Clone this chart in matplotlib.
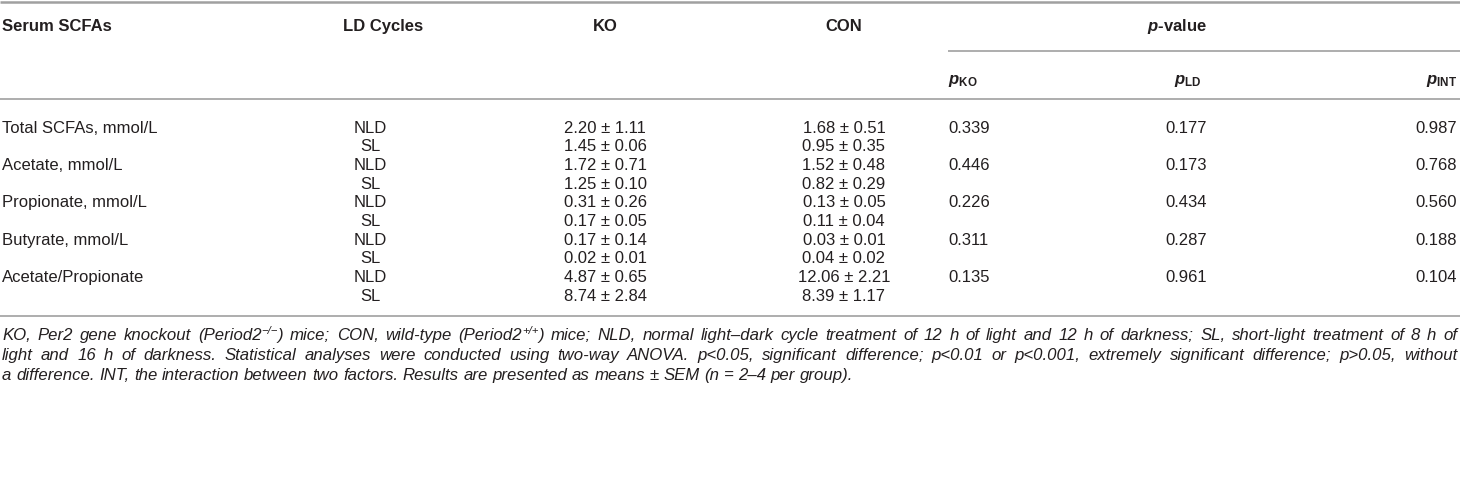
import re
import matplotlib
matplotlib.use('Agg')
import matplotlib.pyplot as plt

W, H = 1460, 479

plt.rcParams['font.family'] = ['Liberation Sans', 'DejaVu Sans']
plt.rcParams['mathtext.fontset'] = 'custom'
plt.rcParams['mathtext.rm'] = 'Liberation Sans'
plt.rcParams['mathtext.it'] = 'Liberation Sans:italic'
plt.rcParams['mathtext.bf'] = 'Liberation Sans:bold'
plt.rcParams['mathtext.bfit'] = 'Liberation Sans:bold:italic'

# table content
scfas = ['Total SCFAs, mmol/L', 'Acetate, mmol/L', 'Propionate, mmol/L',
         'Butyrate, mmol/L', 'Acetate/Propionate']
ld_cycles = ['NLD', 'SL']
ko_vals = [['2.20 ± 1.11', '1.45 ± 0.06'],
           ['1.72 ± 0.71', '1.25 ± 0.10'],
           ['0.31 ± 0.26', '0.17 ± 0.05'],
           ['0.17 ± 0.14', '0.02 ± 0.01'],
           ['4.87 ± 0.65', '8.74 ± 2.84']]
con_vals = [['1.68 ± 0.51', '0.95 ± 0.35'],
            ['1.52 ± 0.48', '0.82 ± 0.29'],
            ['0.13 ± 0.05', '0.11 ± 0.04'],
            ['0.03 ± 0.01', '0.04 ± 0.02'],
            ['12.06 ± 2.21', '8.39 ± 1.17']]
p_ko = ['0.339', '0.446', '0.226', '0.311', '0.135']
p_ld = ['0.177', '0.173', '0.434', '0.287', '0.961']
p_int = ['0.987', '0.768', '0.560', '0.188', '0.104']

# ^{...} marks a superscript
footnote = [
    'KO, Per2 gene knockout (Period2^{\u2212/\u2212}) mice; CON, wild-type (Period2^{+/+}) mice; '
    'NLD, normal light\u2013dark cycle treatment of 12 h of light and 12 h of darkness; SL, short-light treatment of 8 h of',
    'light and 16 h of darkness. Statistical analyses were conducted using two-way ANOVA. p<0.05, significant difference; '
    'p<0.01 or p<0.001, extremely significant difference; p>0.05, without',
    'a difference. INT, the interaction between two factors. Results are presented as means \u00b1 SEM (n = 2\u20134 per group).',
]

TXT = '#231f20'
LINE = '#a0a0a0'
FS = 12

fig = plt.figure(figsize=(W / 100, H / 100), dpi=100)
ax = fig.add_axes([0, 0, 1, 1])
ax.set_xlim(0, W)
ax.set_ylim(H, 0)
ax.axis('off')

# rules
ax.hlines(1.5, 0, W, color=LINE, lw=1.8)
ax.hlines(51, 948, W, color=LINE, lw=1.2)
ax.hlines(99, 0, W, color=LINE, lw=1.2)
ax.hlines(316, 0, W, color=LINE, lw=1.2)

# header
hdr = dict(fontsize=FS, fontweight='bold', color=TXT, va='center')
ax.text(2, 26, 'Serum SCFAs', ha='left', **hdr)
ax.text(383, 26, 'LD Cycles', ha='center', **hdr)
ax.text(605, 26, 'KO', ha='center', **hdr)
ax.text(844, 26, 'CON', ha='center', **hdr)
ax.text(1177, 26, r'$\mathbfit{p}$-value', ha='center', **hdr)
ax.text(948, 81, r'$\mathbfit{p}_{\mathbf{KO}}$', ha='left', **hdr)
ax.text(1188, 81, r'$\mathbfit{p}_{\mathbf{LD}}$', ha='center', **hdr)
ax.text(1457, 81, r'$\mathbfit{p}_{\mathbf{INT}}$', ha='right', **hdr)

# body
body = dict(fontsize=FS, color=TXT, va='center')
y0, dy = 128, 18.7
for i, name in enumerate(scfas):
    y = y0 + 2 * i * dy
    ax.text(2, y, name, ha='left', **body)
    ax.text(948, y, p_ko[i], ha='left', **body)
    ax.text(1186, y, p_ld[i], ha='center', **body)
    ax.text(1457, y, p_int[i], ha='right', **body)
    for j, ld in enumerate(ld_cycles):
        yy = y + j * dy
        ax.text(370, yy, ld, ha='center', **body)
        ax.text(605, yy, ko_vals[i][j], ha='center', **body)
        ax.text(844, yy, con_vals[i][j], ha='center', **body)

# footnote: justified, last line left aligned
renderer = fig.canvas.get_renderer()
x_left, x_right, last_end = 2, 1457, 850


def text_width(s, size):
    t = ax.text(0, 0, s, fontsize=size, style='italic')
    w = t.get_window_extent(renderer).width
    t.remove()
    return w


def segments(word):
    # (text, is_superscript)
    out = []
    for part in re.split(r'(\^\{[^}]*\})', word):
        if not part:
            continue
        if part.startswith('^{'):
            out.append((part[2:-1], True))
        else:
            out.append((part, False))
    return out


def word_width(word, size):
    return sum(text_width(s, size * (0.68 if sup else 1)) for s, sup in segments(word))


def draw_word(x, y, word, size):
    for s, sup in segments(word):
        sz = size * (0.68 if sup else 1)
        ax.text(x, y - (5.5 if sup else 0), s, ha='left', va='baseline',
                fontsize=sz, style='italic', color=TXT)
        x += text_width(s, sz)


fs_note = 12 * (last_end - x_left) / text_width(footnote[-1], 12)

for k, line in enumerate(footnote):
    y = 340 + k * 20
    words = line.split(' ')
    widths = [word_width(w, fs_note) for w in words]
    if k == len(footnote) - 1:
        gap = text_width('a a', fs_note) - text_width('aa', fs_note)
    else:
        gap = (x_right - x_left - sum(widths)) / (len(words) - 1)
    x = x_left
    for w, wd in zip(words, widths):
        draw_word(x, y, w, fs_note)
        x += wd + gap

fig.savefig('out.png', dpi=100)
